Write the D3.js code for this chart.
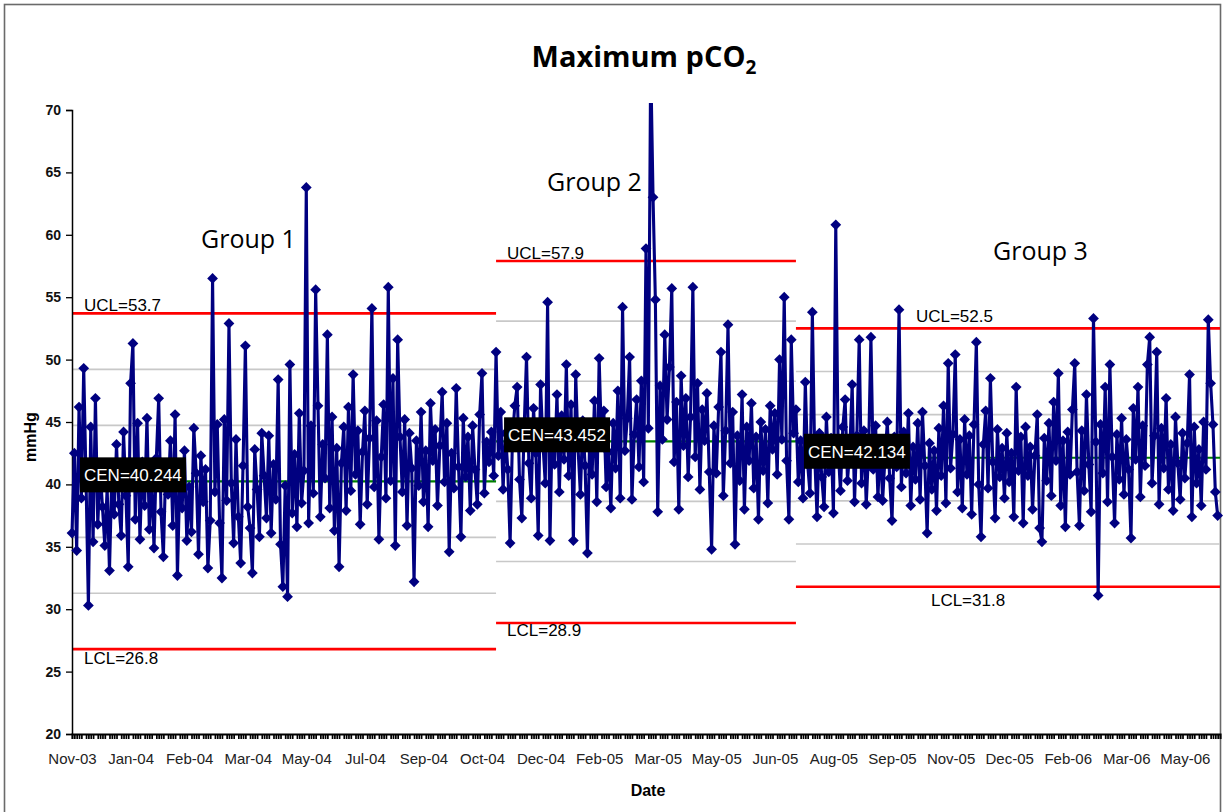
<!DOCTYPE html>
<html>
<head>
<meta charset="utf-8">
<script src="https://cdn.jsdelivr.net/npm/d3@7"></script>
<style>
  body { margin: 0; background: #fff; }
  svg { display: block; }
</style>
</head>
<body>
<svg id="chart" width="1224" height="812"></svg>
<script>
// Category axis labels, one every 25 readings
const dateLabels = ["Nov-03","Jan-04","Feb-04","Mar-04","May-04","Jul-04","Sep-04","Oct-04",
  "Dec-04","Feb-05","Mar-05","May-05","Jun-05","Aug-05","Sep-05","Nov-05","Dec-05","Feb-06","Mar-06","May-06"];

// Maximum pCO2 readings (mmHg), per phase
const group1Values = [
  36.1,42.5,34.7,46.2,38.9,49.3,40.2,30.3,44.6,35.4,
  46.9,36.8,41.3,38.2,35.1,39.7,33.1,40.8,37.6,43.2,
  38.4,35.9,44.2,39.1,33.4,48.1,51.3,37.2,44.9,35.6,
  41.8,38.3,45.3,36.4,40.6,34.9,42.1,46.9,37.8,34.2,
  41.4,39.2,43.5,36.7,45.6,32.7,40.3,38.1,42.7,35.5,
  39.8,36.2,44.5,40.9,34.4,42.3,38.6,41.2,33.3,37.1,
  56.5,39.4,44.8,36.9,32.5,45.2,38.7,52.9,40.1,35.3,
  43.6,37.4,33.7,41.5,51.1,38.2,36.5,32.9,42.8,39.6,
  35.8,44.1,40.7,37.3,43.9,36.1,41.6,38.8,48.4,35.2,
  31.8,39.9,31.0,49.6,37.7,42.4,36.6,45.7,38.5,41.1,
  63.8,36.9,44.7,39.3,55.6,46.3,37.4,43.2,40.5,52.0,
  38.1,45.4,36.3,42.9,33.4,41.7,44.6,37.9,46.2,39.5,
  48.8,40.8,44.3,36.8,42.6,45.9,38.4,43.7,54.1,39.8,
  45.1,35.6,42.2,46.4,38.9,55.8,40.3,48.5,35.1,51.6,
  43.8,39.4,45.2,36.7,44.1,41.3,32.2,43.5,39.9,45.8,
  38.6,42.7,36.6,46.5,41.9,44.4,38.3,43.1,47.4,40.2,
  44.9,34.6,42.5,39.7,47.7,41.4,35.8,45.3,40.6,43.8,
  37.9,44.7,41.2,38.4,45.6,48.9,39.3,43.4,41.8,44.2,
  40.7
];
const group2Values = [
  50.6,42.3,45.8,39.6,44.1,41.2,35.3,43.7,46.3,47.8,
  40.4,37.3,44.6,50.2,41.7,38.9,46.1,42.5,35.9,48.0,
  43.3,40.1,54.6,35.5,44.8,41.6,47.2,39.4,45.5,42.0,
  49.6,40.7,46.4,35.5,48.8,42.9,39.2,45.1,41.5,34.5,
  44.2,40.8,46.7,38.6,50.1,43.4,45.9,39.8,42.6,38.1,
  44.9,41.3,47.5,38.9,54.2,42.7,45.3,50.2,38.8,44.0,
  46.8,41.4,48.3,40.2,58.9,44.5,74.0,63.0,54.8,37.8,
  47.9,43.6,52.0,45.2,49.4,55.7,41.8,46.6,38.0,48.7,
  43.1,46.9,40.6,45.4,55.8,42.2,48.1,39.6,46.0,43.5,
  47.3,41.0,34.8,44.7,40.9,46.2,50.6,39.1,44.3,52.8,
  41.7,45.8,35.2,43.9,40.3,47.2,38.0,44.6,41.9,46.5,
  39.7,43.8,37.2,45.0,41.1,44.4,38.5,46.3,42.8,45.7,
  40.8,50.0,43.6,55.0,41.9,37.2,51.6,44.1
];
const group3Values = [
  46.0,40.2,43.5,38.9,48.2,41.6,39.3,53.8,42.4,37.4,
  44.1,40.6,38.2,45.4,41.0,43.7,37.7,60.8,42.9,39.5,
  44.6,46.8,40.3,42.8,48.0,38.6,43.9,51.6,40.1,44.3,
  38.4,42.6,51.8,41.2,44.7,39.0,43.4,38.7,42.1,45.0,
  40.5,37.1,43.8,41.4,54.0,39.8,44.2,40.9,45.7,38.3,
  43.0,40.4,44.9,38.8,45.8,41.5,36.1,43.3,39.6,42.7,
  37.9,44.5,40.7,46.3,38.5,49.7,41.3,44.0,50.4,39.4,
  43.6,38.1,45.2,40.8,43.9,37.6,44.8,51.4,40.0,35.8,
  43.2,45.9,39.7,48.5,41.8,37.3,44.4,40.6,42.9,38.9,
  44.1,40.2,42.5,37.4,47.8,41.1,43.8,36.9,44.6,40.7,
  43.0,38.0,42.3,45.6,36.5,35.4,43.7,40.3,44.9,39.1,
  46.6,41.9,48.9,38.3,43.5,36.6,44.2,40.8,46.0,49.7,
  41.0,36.7,44.3,39.5,47.2,41.6,37.8,53.3,43.4,31.1,
  44.8,40.9,47.8,38.6,49.6,42.2,36.9,44.0,40.4,45.3,
  39.2,43.6,41.2,35.7,46.1,42.0,47.8,39.0,44.7,41.5,
  49.6,51.8,40.1,43.9,50.6,38.4,44.5,41.3,46.9,39.6,
  43.2,37.9,45.4,41.7,38.8,44.1,40.5,43.3,48.8,37.4,
  44.6,40.1,42.8,38.3,45.0,41.2,53.2,48.1,44.8,39.4,
  37.5
];

// Control limits for each phase
const groupNames = ["Group 1", "Group 2", "Group 3"];
const uclValues = [53.7, 57.9, 52.5];
const cenValues = [40.244, 43.452, 42.134];
const lclValues = [26.8, 28.9, 31.8];

const yTickValues = [20, 25, 30, 35, 40, 45, 50, 55, 60, 65, 70];
const labelEvery = 25;
const tickEvery = 5;

// ---- layout ----
const plot = { left: 72, right: 1220, top: 110, bottom: 734, clipTop: 103 };
const groupLabelPos = [{ x: 201, y: 248 }, { x: 547, y: 191 }, { x: 993, y: 260 }];
const uclLabelOffset = [{ dx: 12, dy: -2 }, { dx: 11, dy: -2 }, { dx: 120, dy: -6 }];
const lclLabelOffset = [{ dx: 12, dy: 15 }, { dx: 11, dy: 13 }, { dx: 135, dy: 19 }];

const values = group1Values.concat(group2Values, group3Values);
const N = values.length;
const groups = [group1Values, group2Values, group3Values];
const groupStart = [];
{
  let s = 0;
  groups.forEach(g => { groupStart.push(s); s += g.length; });
  groupStart.push(s);
}

const svg = d3.select("#chart");
const x = d3.scaleLinear().domain([0, N]).range([plot.left, plot.right]);
const y = d3.scaleLinear().domain([20, 70]).range([plot.bottom, plot.top]);

const navy = "#000080";
const sans = "'Liberation Sans', Arial, sans-serif";
const titleFont = "'Open Sans', 'Noto Sans', sans-serif";

// outer frame
svg.append("rect")
  .attr("x", 4.5).attr("y", 4.5).attr("width", 1216).attr("height", 830)
  .attr("fill", "none").attr("stroke", "#6a6a6a").attr("stroke-width", 1.6);

// title
const title = svg.append("text")
  .attr("x", 644).attr("y", 67)
  .attr("text-anchor", "middle")
  .attr("font-family", titleFont).attr("font-weight", 700).attr("font-size", 29)
  .attr("fill", "#000");
title.append("tspan").text("Maximum pCO");
title.append("tspan").attr("font-size", 19).attr("dy", 7).text("2");

svg.append("defs").append("clipPath").attr("id", "plotClip")
  .append("rect")
  .attr("x", plot.left - 8).attr("y", plot.clipTop)
  .attr("width", plot.right - plot.left + 12).attr("height", plot.bottom - plot.clipTop + 8);

const limits = svg.append("g");
groups.forEach((g, gi) => {
  const x0 = x(groupStart[gi]);
  const x1 = x(groupStart[gi + 1]);
  const sigma = (uclValues[gi] - cenValues[gi]) / 3;
  [-2, -1, 1, 2].forEach(k => {
    limits.append("line")
      .attr("x1", x0).attr("x2", x1)
      .attr("y1", y(cenValues[gi] + k * sigma)).attr("y2", y(cenValues[gi] + k * sigma))
      .attr("stroke", "#c8c8c8").attr("stroke-width", 1.6);
  });
  [uclValues[gi], lclValues[gi]].forEach(v => {
    limits.append("line")
      .attr("x1", x0).attr("x2", x1)
      .attr("y1", y(v)).attr("y2", y(v))
      .attr("stroke", "#ff0000").attr("stroke-width", 2.6);
  });
  limits.append("line")
    .attr("x1", x0).attr("x2", x1)
    .attr("y1", y(cenValues[gi])).attr("y2", y(cenValues[gi]))
    .attr("stroke", "#008000").attr("stroke-width", 2.2);
});

// axes
const yAxis = svg.append("g")
  .attr("transform", `translate(${plot.left},0)`)
  .call(d3.axisLeft(y).tickValues(yTickValues).tickSize(6).tickPadding(5));
yAxis.select(".domain").attr("stroke", "#000").attr("stroke-width", 1.5);
yAxis.selectAll(".tick line").attr("stroke", "#000").attr("stroke-width", 1.3);
yAxis.selectAll("text")
  .attr("font-family", sans).attr("font-weight", 700).attr("font-size", 14).attr("fill", "#111");

const minorIdx = d3.range(0, N + 1).filter(i => i % tickEvery !== 0);
const xTicks = svg.append("g")
  .attr("transform", `translate(0,${plot.bottom})`)
  .call(d3.axisBottom(x).tickValues(minorIdx).tickSize(5).tickFormat(""));
xTicks.select(".domain").attr("stroke", "#000").attr("stroke-width", 2.2);
xTicks.selectAll(".tick line").attr("stroke", "#000").attr("stroke-width", 1.7);

const xLabels = svg.append("g")
  .attr("transform", `translate(0,${plot.bottom})`)
  .call(d3.axisBottom(x)
    .tickValues(d3.range(0, dateLabels.length).map(i => i * labelEvery))
    .tickSize(0).tickPadding(19)
    .tickFormat(i => dateLabels[i / labelEvery]));
xLabels.select(".domain").remove();
xLabels.selectAll("text")
  .attr("font-family", sans).attr("font-size", 15).attr("fill", "#222");

// axis titles
svg.append("text")
  .attr("transform", "translate(36,437) rotate(-90)")
  .attr("text-anchor", "middle")
  .attr("font-family", sans).attr("font-weight", 700).attr("font-size", 16)
  .text("mmHg");
svg.append("text")
  .attr("x", 648).attr("y", 796)
  .attr("text-anchor", "middle")
  .attr("font-family", sans).attr("font-weight", 700).attr("font-size", 16)
  .text("Date");

// series
const series = svg.append("g").attr("clip-path", "url(#plotClip)");
series.append("path")
  .datum(values)
  .attr("d", d3.line().x((d, i) => x(i)).y(d => y(d)))
  .attr("fill", "none").attr("stroke", navy).attr("stroke-width", 3.1)
  .attr("stroke-linejoin", "miter");
const diamond = d3.symbol(d3.symbolSquare, 58);
series.selectAll("path.pt")
  .data(values)
  .join("path")
  .attr("class", "pt")
  .attr("d", diamond)
  .attr("transform", (d, i) => `translate(${x(i)},${y(d)}) rotate(45)`)
  .attr("fill", navy);

// limit labels
const labels = svg.append("g").attr("font-family", sans).attr("font-size", 17);
groups.forEach((g, gi) => {
  const x0 = x(groupStart[gi]);
  labels.append("text")
    .attr("x", x0 + uclLabelOffset[gi].dx).attr("y", y(uclValues[gi]) + uclLabelOffset[gi].dy)
    .attr("fill", "#000").text(`UCL=${uclValues[gi]}`);
  labels.append("text")
    .attr("x", x0 + lclLabelOffset[gi].dx).attr("y", y(lclValues[gi]) + lclLabelOffset[gi].dy)
    .attr("fill", "#000").text(`LCL=${lclValues[gi]}`);
  const cy = y(cenValues[gi]);
  labels.append("rect")
    .attr("x", x0 + 8).attr("y", cy - 24).attr("width", 106).attr("height", 35)
    .attr("fill", "#000");
  labels.append("text")
    .attr("x", x0 + 12).attr("y", cy)
    .attr("fill", "#fff").text(`CEN=${cenValues[gi].toFixed(3)}`);
  svg.append("text")
    .attr("x", groupLabelPos[gi].x).attr("y", groupLabelPos[gi].y)
    .attr("font-family", titleFont).attr("font-size", 25).attr("fill", "#000")
    .text(groupNames[gi]);
});
</script>
</body>
</html>
